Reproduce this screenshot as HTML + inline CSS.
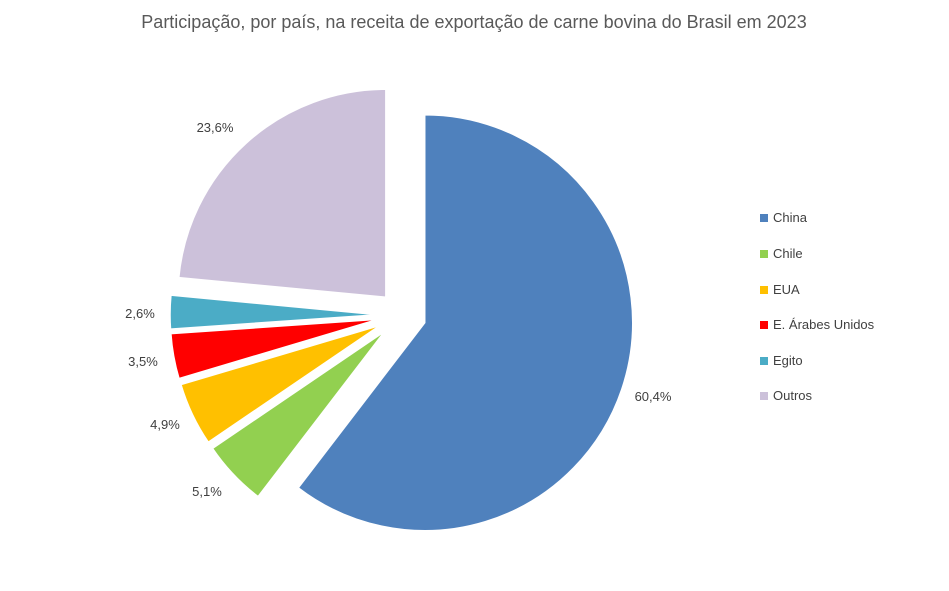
<!DOCTYPE html>
<html><head><meta charset="utf-8"><style>
body{margin:0;background:#fff;}
svg{display:block;font-family:"Liberation Sans",sans-serif;}
</style></head><body>
<svg id="s" width="949" height="591" viewBox="0 0 949 591">
<rect width="949" height="591" fill="#fff"/>
<text x="474" y="28" text-anchor="middle" font-size="18" fill="#595959">Participação, por país, na receita de exportação de carne bovina do Brasil em 2023</text>
<g id="pie"></g>
<g font-size="13" fill="#404040">
<text x="653" y="401" text-anchor="middle">60,4%</text>
<text x="207" y="496" text-anchor="middle">5,1%</text>
<text x="165" y="429" text-anchor="middle">4,9%</text>
<text x="143" y="366" text-anchor="middle">3,5%</text>
<text x="140" y="318" text-anchor="middle">2,6%</text>
<text x="215" y="132" text-anchor="middle">23,6%</text>
</g>
<g font-size="13" fill="#404040">
<rect x="760" y="214" width="8" height="8" fill="#4F81BD"/><text x="773" y="222">China</text>
<rect x="760" y="250" width="8" height="8" fill="#92D050"/><text x="773" y="258">Chile</text>
<rect x="760" y="286" width="8" height="8" fill="#FFC000"/><text x="773" y="294">EUA</text>
<rect x="760" y="321" width="8" height="8" fill="#FF0000"/><text x="773" y="329">E. Árabes Unidos</text>
<rect x="760" y="357" width="8" height="8" fill="#4BACC6"/><text x="773" y="365">Egito</text>
<rect x="760" y="392" width="8" height="8" fill="#CCC1DA"/><text x="773" y="400">Outros</text>
</g>
</svg>
<script>
var d=[[60.4,"#4F81BD"],[5.1,"#92D050"],[4.9,"#FFC000"],[3.5,"#FF0000"],[2.6,"#4BACC6"],[23.5,"#CCC1DA"]];
var cx=402,cy=315,R=208,ex=24,a=0,g=document.getElementById("pie"),h="";
function p(t,r,ox,oy){var q=t*Math.PI/180;return [ox+r*Math.sin(q),oy-r*Math.cos(q)];}
d.forEach(function(s){var sw=s[0]*3.6,m=a+sw/2,o=p(m,ex,cx,cy),A=p(a,R,o[0],o[1]),B=p(a+sw,R,o[0],o[1]);
h+='<path d="M'+o[0]+','+o[1]+'L'+A[0]+','+A[1]+'A'+R+','+R+' 0 '+(sw>180?1:0)+' 1 '+B[0]+','+B[1]+'Z" fill="'+s[1]+'" stroke="#fff" stroke-width="1.5"/>';a+=sw;});
g.innerHTML=h;
</script>
</body></html>
